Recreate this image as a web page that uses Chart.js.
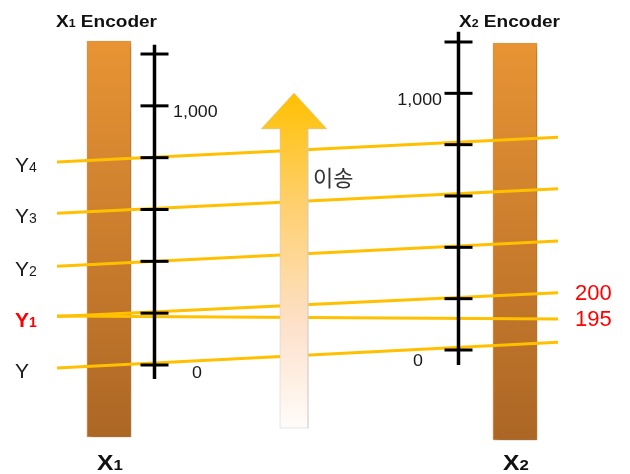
<!DOCTYPE html>
<html><head><meta charset="utf-8">
<script src="https://cdn.jsdelivr.net/npm/chart.js@4.4.0/dist/chart.umd.min.js"></script>
<style>html,body{margin:0;padding:0;background:#fff;}#wrap{width:630px;height:474px;position:relative;}</style>
</head><body><div id="wrap"><canvas id="c"></canvas></div>
<script>
// ---- data (encoder readings) ----
const leftTicks  = [0, 200, 400, 600, 800, 1000, 1200];   // X1 encoder scale
const rightTicks = [0, 200, 400, 600, 800, 1000, 1200];   // X2 encoder scale
const leftTickLabels  = ['0', '', '', '', '', '1,000', ''];
const rightTickLabels = ['0', '', '', '', '', '1,000', ''];
const beamNames     = ['Y', 'Y1', 'Y1', 'Y2', 'Y3', 'Y4'];
const beamLeftRead  = [8, 205, 187, 400, 604, 802];   // reading where beam crosses X1 scale
const beamRightRead = [10, 205, 123, 405, 609, 810];  // reading where beam crosses X2 scale
const beamEndLabels = ['', '200', '195', '', '', ''];

// ---- layout constants ----
const X1_AXIS = 154.5, X2_AXIS = 458.5, BEAM_START = 57, BEAM_END = 558;
const YL = {min: -420.6, max: 1408.4};
const YR = {min: -483.1, max: 1363.6};
const LATIN = '"Liberation Sans", Arial, sans-serif';

function rightToLeft(r) { const f = (r - YR.min) / (YR.max - YR.min); return YL.min + f * (YL.max - YL.min); }

const beamData = beamNames.map((n, i) => {
  const a = beamLeftRead[i], b = rightToLeft(beamRightRead[i]);
  const s = (b - a) / (X2_AXIS - X1_AXIS);
  return [{x: BEAM_START, y: a + s * (BEAM_START - X1_AXIS)}, {x: BEAM_END, y: a + s * (BEAM_END - X1_AXIS)}];
});

function barGradient(ctx) {
  const chart = ctx.chart; if (!chart.chartArea) return '#cc8030';
  const y = chart.scales.y;
  const g = chart.ctx.createLinearGradient(0, y.getPixelForValue(1250), 0, y.getPixelForValue(-290));
  g.addColorStop(0, '#E89434'); g.addColorStop(1, '#AC6625');
  return g;
}
function arrowGradient(ctx) {
  const chart = ctx.chart; if (!chart.chartArea) return '#ffc000';
  const y = chart.scales.y;
  const g = chart.ctx.createLinearGradient(0, y.getPixelForValue(1050), 0, y.getPixelForValue(-243));
  g.addColorStop(0, '#FFC000'); g.addColorStop(0.32, '#FFCF6A');
  g.addColorStop(0.7, '#FDE1CB'); g.addColorStop(1, '#FFFCFA');
  return g;
}

// arrow outline (x units, left-scale units)
const aTop = 1050, aNeck = 911, aBot = -243, aCx = 294, aHead = 33, aShaft = 14;
const arrowPts = [
  {x: aCx - aHead, y: aNeck}, {x: aCx, y: aTop}, {x: aCx + aHead, y: aNeck},
  {x: aCx + aShaft, y: aNeck}, {x: aCx + aShaft, y: aBot}, {x: aCx - aShaft, y: aBot},
  {x: aCx - aShaft, y: aNeck}, {x: aCx - aHead, y: aNeck}
];

const datasets = [];
datasets.push({type: 'bar', data: [{x: 109, y: [-278, 1250]}, {x: 515, y: [-289, 1242]}],
  barThickness: 44, backgroundColor: barGradient, borderColor: 'rgba(222,150,70,1)', borderWidth: 1,
  borderSkipped: false, order: 50, shadow: true});
beamData.forEach((d, i) => datasets.push({type: 'line', data: d, borderColor: '#FFC000', borderWidth: 3,
  pointRadius: 0, fill: false, order: 40}));
datasets.push({type: 'line', data: [{x: X1_AXIS, y: -54}, {x: X1_AXIS, y: 1236}], borderColor: '#000', borderWidth: 3.5, pointRadius: 0, order: 30});
datasets.push({type: 'line', yAxisID: 'yR', data: [{x: X2_AXIS, y: -58}, {x: X2_AXIS, y: 1240}], borderColor: '#000', borderWidth: 3.5, pointRadius: 0, order: 30});
datasets.push({type: 'line', showLine: false, data: leftTicks.map(v => ({x: X1_AXIS, y: v})),
  pointStyle: 'line', pointRadius: 14, pointBorderWidth: 3, pointBorderColor: '#000', order: 20});
datasets.push({type: 'line', yAxisID: 'yR', showLine: false, data: rightTicks.map(v => ({x: X2_AXIS, y: v})),
  pointStyle: 'line', pointRadius: 14, pointBorderWidth: 3, pointBorderColor: '#000', order: 20});
datasets.push({type: 'line', data: arrowPts, fill: 'shape', backgroundColor: arrowGradient,
  borderColor: 'rgba(205,205,205,0.6)', borderWidth: 0.8, pointRadius: 0, tension: 0, order: 10});

function parts(ctx, x, y, list, sx) {
  ctx.save(); ctx.translate(x, y); ctx.scale(sx || 1, 1);
  ctx.textBaseline = 'alphabetic'; ctx.textAlign = 'left';
  let cx = 0;
  for (const p of list) { ctx.font = p.f; ctx.fillStyle = p.c || '#111'; ctx.fillText(p.t, cx, 0); cx += ctx.measureText(p.t).width; }
  ctx.restore();
}
function txt(ctx, s, x, y, font, color, align, sx) {
  ctx.save(); ctx.translate(x, y); ctx.scale(sx || 1, 1);
  ctx.font = font; ctx.fillStyle = color; ctx.textAlign = align || 'left'; ctx.textBaseline = 'middle';
  ctx.fillText(s, 0, 0); ctx.restore();
}

const shadowPlugin = {
  id: 'shadow',
  beforeDatasetDraw(chart, args) {
    if (chart.data.datasets[args.index].shadow) {
      const c = chart.ctx; c.save(); c.shadowColor = 'rgba(0,0,0,0.35)'; c.shadowBlur = 5; c.shadowOffsetX = 2; c.shadowOffsetY = 3;
    }
  },
  afterDatasetDraw(chart, args) { if (chart.data.datasets[args.index].shadow) chart.ctx.restore(); }
};

const textPlugin = {
  id: 'texts',
  afterDatasetsDraw(chart) {
    const c = chart.ctx, y = chart.scales.y, yR = chart.scales.yR;
    const B17 = 'bold 17px ' + LATIN, B11 = 'bold 11px ' + LATIN;
    parts(c, 56, 27, [{t: 'X', f: B17}, {t: '1', f: B11}, {t: ' Encoder', f: B17}], 1.12);
    parts(c, 459, 27, [{t: 'X', f: B17}, {t: '2', f: B11}, {t: ' Encoder', f: B17}], 1.12);
    const B22 = 'bold 22px ' + LATIN, B15 = 'bold 15px ' + LATIN;
    parts(c, 97, 470, [{t: 'X', f: B22}, {t: '1', f: B15}], 1.12);
    parts(c, 503, 470, [{t: 'X', f: B22}, {t: '2', f: B15}], 1.12);
    const seen = {};
    beamNames.forEach((n, i) => {
      if (seen[n]) return; seen[n] = 1;
      const py = y.getPixelForValue(beamData[i][0].y) + 10;
      const red = n === 'Y1';
      const f1 = (red ? 'bold ' : '') + '21px ' + LATIN, f2 = (red ? 'bold ' : '') + '14px ' + LATIN;
      const col = red ? '#FF0000' : '#1a1a1a';
      const list = [{t: 'Y', f: f1, c: col}];
      if (n.length > 1) list.push({t: n.slice(1), f: f2, c: col});
      parts(c, 15, py, list, 1.0);
    });
    beamEndLabels.forEach((s, i) => {
      if (!s) return;
      txt(c, s, 575, y.getPixelForValue(beamData[i][1].y) + 1, '22px ' + LATIN, '#FF0000', 'left', 1.0);
    });
    const F17 = '17px ' + LATIN;
    leftTicks.forEach((v, i) => {
      const s = leftTickLabels[i]; if (!s) return;
      if (v === 0) txt(c, s, 197, y.getPixelForValue(v) + 8, F17, '#1a1a1a', 'center', 1.05);
      else txt(c, s, 173, y.getPixelForValue(v) + 6, F17, '#1a1a1a', 'left', 1.05);
    });
    rightTicks.forEach((v, i) => {
      const s = rightTickLabels[i]; if (!s) return;
      if (v === 0) txt(c, s, 418, yR.getPixelForValue(v) + 11, F17, '#1a1a1a', 'center', 1.05);
      else txt(c, s, 442, yR.getPixelForValue(v) + 7, F17, '#1a1a1a', 'right', 1.05);
    });
    txt(c, '이송', 313, 178, '22px "Noto Sans CJK KR", sans-serif', '#333', 'left', 1.0);
  }
};

new Chart(document.getElementById('c'), {
  type: 'line',
  data: {datasets},
  options: {
    responsive: true, maintainAspectRatio: false, animation: false, events: [],
    layout: {padding: 0, autoPadding: false},
    plugins: {legend: {display: false}, tooltip: {enabled: false}},
    scales: {
      x: {type: 'linear', min: 0, max: 630, display: false, offset: false, bounds: 'data', grace: 0},
      y: {type: 'linear', min: YL.min, max: YL.max, display: false, offset: false, bounds: 'data', grace: 0},
      yR: {type: 'linear', min: YR.min, max: YR.max, display: false, offset: false, bounds: 'data', grace: 0}
    }
  },
  plugins: [shadowPlugin, textPlugin]
});
</script></body></html>
